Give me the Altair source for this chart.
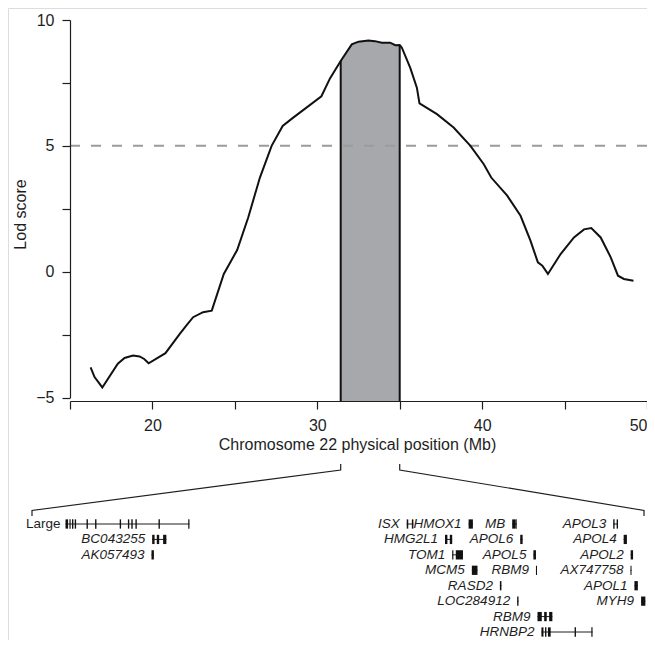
import altair as alt
import pandas as pd

# ---------------- LOD curve (Mb, LOD) ----------------
POS = [16.25, 16.49, 16.96, 17.90, 18.31, 18.82, 19.22, 19.50, 19.77, 20.79,
       21.66, 22.10, 22.47, 23.07, 23.60, 24.33, 25.14, 25.81, 26.52, 27.23,
       27.90, 28.54, 30.25, 30.77, 31.42, 32.09, 32.50, 33.10, 33.50, 33.92,
       34.42, 34.73, 35.00, 35.13, 35.64, 36.04, 36.20, 37.26, 38.27, 39.29,
       40.10, 40.55, 41.52, 42.33, 42.93, 43.38, 43.65, 43.99, 44.76, 45.57,
       46.18, 46.62, 47.19, 47.80, 48.24, 48.60, 49.18]
LOD = [-3.80, -4.19, -4.60, -3.66, -3.43, -3.33, -3.37, -3.47, -3.64, -3.24,
       -2.47, -2.10, -1.81, -1.61, -1.55, -0.09, 0.86, 2.15, 3.74, 5.00,
       5.79, 6.12, 6.97, 7.68, 8.37, 9.03, 9.14, 9.19, 9.16, 9.10,
       9.10, 9.00, 9.01, 8.90, 8.10, 7.31, 6.69, 6.26, 5.73, 5.00,
       4.27, 3.74, 3.02, 2.22, 1.23, 0.37, 0.24, -0.09, 0.70, 1.36,
       1.68, 1.73, 1.36, 0.57, -0.16, -0.29, -0.36]
REGION = [31.42, 35.00]
THRESHOLD = 5
FLOOR = -5.14
X_TICKS = [15, 20, 25, 30, 35, 40, 45, 50]
Y_TICKS = [-5, -2.5, 0, 2.5, 5, 7.5, 10]

# ---------------- gene diagram (zoomed region, Mb) ----------------
GENE_NAME = ["Large", "BC043255", "AK057493", "ISX", "HMOX1", "MB", "APOL3",
             "HMG2L1", "APOL6", "APOL4", "TOM1", "APOL5", "APOL2", "MCM5",
             "RBM9", "AX747758", "RASD2", "APOL1", "LOC284912", "MYH9",
             "RBM9", "HRNBP2"]
GENE_ROW = [0, 1, 2, 0, 0, 0, 0, 1, 1, 1, 2, 2, 2, 3, 3, 3, 4, 4, 5, 5, 6, 7]
GENE_START = [31.616, 32.123, 32.119, 33.612, 33.974, 34.229, 34.820,
              33.836, 34.276, 34.881, 33.878, 34.353, 34.922, 33.993,
              34.368, 34.921, 34.157, 34.944, 34.258, 34.983, 34.377, 34.400]
GENE_END = [32.341, 32.206, 32.133, 33.651, 33.999, 34.256, 34.848,
            33.878, 34.290, 34.900, 33.941, 34.368, 34.936, 34.026,
            34.374, 34.927, 34.166, 34.964, 34.266, 35.008, 34.464, 34.699]
GENE_ITALIC = [False] + [True] * 21

EXON_GENE = [0] * 12 + [1, 1, 1, 2, 3, 3, 4, 5, 5, 6, 6, 7, 7, 8, 9, 10, 10,
                         11, 12, 13, 14, 15, 16, 17, 18, 19, 20, 20, 20,
                         21, 21, 21, 21, 21]
EXON_START = [31.616, 31.639, 31.654, 31.670, 31.739, 31.789, 31.933, 31.981,
              32.001, 32.025, 32.160, 32.334,
              32.123, 32.150, 32.187, 32.119, 33.612, 33.642, 33.974,
              34.229, 34.252, 34.820, 34.840, 33.836, 33.864, 34.276, 34.881,
              33.878, 33.899, 34.353, 34.922, 33.993, 34.368, 34.921, 34.157,
              34.944, 34.258, 34.983, 34.377, 34.416, 34.445,
              34.400, 34.421, 34.438, 34.594, 34.692]
EXON_END = [31.631, 31.646, 31.662, 31.678, 31.747, 31.797, 31.941, 31.989,
            32.009, 32.033, 32.168, 32.341,
            32.137, 32.164, 32.206, 32.133, 33.621, 33.651, 33.999,
            34.250, 34.256, 34.828, 34.848, 33.850, 33.878, 34.290, 34.900,
            33.885, 33.941, 34.368, 34.936, 34.026, 34.374, 34.927, 34.166,
            34.964, 34.266, 35.008, 34.402, 34.431, 34.464,
            34.412, 34.429, 34.454, 34.602, 34.699]

# ---------------- layout / style ----------------
FONT = "Liberation Sans"
INK = "#1e1e1e"
W, H = 639, 632
TOP_XD, TOP_XR = [15, 50], [62, 639]
TOP_YD, TOP_YR = [-5, 10], [389.5, 12]
DIA_XD, DIA_XR = [REGION[0], REGION[1]], [24, 636]
ROW_D, ROW_R = [0, 7], [516, 624]
AXIS_Y_PX = 393


def sc(d, r):
    return alt.Scale(domain=d, range=r, nice=False, zero=False)


def diag_to_top(mb):
    px = DIA_XR[0] + (mb - DIA_XD[0]) / (DIA_XD[1] - DIA_XD[0]) * (DIA_XR[1] - DIA_XR[0])
    return TOP_XD[0] + (px - TOP_XR[0]) / (TOP_XR[1] - TOP_XR[0]) * (TOP_XD[1] - TOP_XD[0])


curve = pd.DataFrame({"pos": POS, "lod": LOD})
shade = curve[(curve.pos >= REGION[0]) & (curve.pos <= REGION[1])].copy()
shade["floor"] = FLOOR
lookup = dict(zip(POS, LOD))
edges = pd.DataFrame({"pos": REGION, "top": [lookup[REGION[0]], lookup[REGION[1]]],
                      "floor": [FLOOR, FLOOR]})
thresh = pd.DataFrame({"x": [TOP_XD[0]], "x2": [TOP_XD[1]], "y": [THRESHOLD]})

x_axis = alt.Axis(values=X_TICKS, format="d", orient="bottom",
                  labelExpr="datum.value % 10 === 0 ? datum.label : ''",
                  offset=AXIS_Y_PX - H, tickSize=8, tickWidth=1.2, domainWidth=1.2,
                  labelPadding=8, labelFont=FONT, labelFontSize=16, labelColor=INK,
                  labelFlush=True, labelOverlap=False,
                  domainColor=INK, tickColor=INK, grid=False, zindex=1,
                  title="Chromosome 22 physical position (Mb)", titleFont=FONT,
                  titleFontSize=16, titleFontWeight="normal", titleColor=INK,
                  titleX=349, titleY=35, titleBaseline="top", titleAlign="center",
                  titleAngle=0)
y_axis = alt.Axis(values=Y_TICKS, format="d", orient="left",
                  labelExpr="datum.value % 5 === 0 ? datum.label : ''",
                  offset=-TOP_XR[0], tickSize=8, tickWidth=1.2, domainWidth=1.2,
                  labelPadding=8, labelFont=FONT, labelFontSize=16, labelColor=INK,
                  labelFlush=False, labelOverlap=False,
                  domainColor=INK, tickColor=INK, grid=False, zindex=1,
                  title="Lod score", titleFont=FONT, titleFontSize=16,
                  titleFontWeight="normal", titleColor=INK,
                  titleX=-41.6, titleY=206, titleAngle=270, titleBaseline="bottom",
                  titleAlign="center")

XS = sc(TOP_XD, TOP_XR)
YS = sc(TOP_YD, TOP_YR)

area = alt.Chart(shade).mark_area(color="#a7a8ab", opacity=1).encode(
    x=alt.X("pos:Q", scale=XS, axis=x_axis),
    y=alt.Y("lod:Q", scale=YS, axis=y_axis),
    y2="floor:Q")
dash = alt.Chart(thresh).mark_rule(color="#9b9b9b", strokeWidth=2, strokeDash=[10, 11]).encode(
    x=alt.X("x:Q", scale=XS), x2="x2:Q", y=alt.Y("y:Q", scale=YS))
edge = alt.Chart(edges).mark_rule(color="#111", strokeWidth=2).encode(
    x=alt.X("pos:Q", scale=XS), y=alt.Y("floor:Q", scale=YS), y2="top:Q")
line = alt.Chart(curve).mark_line(color="#111", strokeWidth=2, interpolate="linear").encode(
    x=alt.X("pos:Q", scale=XS), y=alt.Y("lod:Q", scale=YS))
top = alt.layer(area, dash, edge, line)

# gene diagram
genes = pd.DataFrame({"name": GENE_NAME, "row": GENE_ROW, "start": GENE_START,
                      "end": GENE_END, "italic": GENE_ITALIC})
exons = pd.DataFrame({"gene": EXON_GENE, "s": EXON_START, "e": EXON_END})
exons["row"] = [GENE_ROW[g] for g in EXON_GENE]

DX = sc(DIA_XD, DIA_XR)
RY = sc(ROW_D, ROW_R)
HALF = 0.30

gline = alt.Chart(genes).mark_rule(color=INK, strokeWidth=1).encode(
    x=alt.X("start:Q", scale=DX, axis=None), x2="end:Q",
    y=alt.Y("row:Q", scale=RY, axis=None))
gexon = alt.Chart(exons).transform_calculate(
    y1=f"datum.row - {HALF}", y2=f"datum.row + {HALF}").mark_rect(color="#111").encode(
    x=alt.X("s:Q", scale=DX, axis=None), x2="e:Q",
    y=alt.Y("y1:Q", scale=RY, axis=None), y2="y2:Q")
glab_i = alt.Chart(genes).transform_filter("datum.italic").mark_text(
    align="right", baseline="middle", dx=-7, font=FONT, fontSize=13.5,
    fontStyle="italic", color=INK).encode(
    x=alt.X("start:Q", scale=DX, axis=None), y=alt.Y("row:Q", scale=RY, axis=None),
    text="name:N")
glab_u = alt.Chart(genes).transform_filter("!datum.italic").mark_text(
    align="right", baseline="middle", dx=-5, font=FONT, fontSize=13.5,
    color=INK).encode(
    x=alt.X("start:Q", scale=DX, axis=None), y=alt.Y("row:Q", scale=RY, axis=None),
    text="name:N")
diagram = alt.layer(gline, gexon, glab_i, glab_u)

# zoom connectors (row units vertically)
C_TOP, C_BEND, C_LOW, C_TICK = -3.89, -3.50, -0.88, -0.52
conn = pd.DataFrame({
    "x": [REGION[0], REGION[0], diag_to_top(DIA_XD[0]), diag_to_top(DIA_XD[0]),
          REGION[1], REGION[1], diag_to_top(DIA_XD[1]), diag_to_top(DIA_XD[1])],
    "row": [C_TOP, C_BEND, C_LOW, C_TICK] * 2,
    "order": [0, 1, 2, 3] * 2,
    "side": ["L"] * 4 + ["R"] * 4})
connectors = alt.Chart(conn).mark_line(color=INK, strokeWidth=1.2).encode(
    x=alt.X("x:Q", scale=sc(TOP_XD, TOP_XR), axis=None),
    y=alt.Y("row:Q", scale=sc(ROW_D, ROW_R), axis=None),
    detail="side:N", order="order:Q")

chart = alt.layer(top, diagram, connectors).resolve_scale(
    x="independent", y="independent").properties(
    width=W, height=H, padding=0,
    autosize=alt.AutoSizeParams(type="none")).configure_view(stroke=None).configure(
    background="white")

chart.save("out.html", embed_options={"renderer": "svg", "actions": False})
